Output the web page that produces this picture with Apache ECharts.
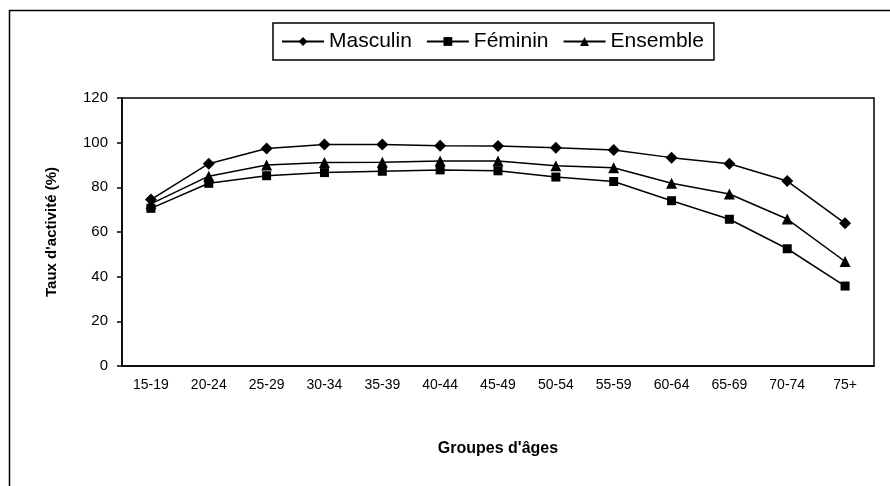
<!DOCTYPE html>
<html>
<head>
<meta charset="utf-8">
<script src="https://cdn.jsdelivr.net/npm/echarts@6/dist/echarts.min.js"></script>
<style>
  html, body { margin: 0; padding: 0; background: #fff; }
  #chart { width: 890px; height: 486px; }
</style>
</head>
<body>
<div id="chart"></div>
<script>
// données
var categories = ['15-19', '20-24', '25-29', '30-34', '35-39', '40-44', '45-49', '50-54', '55-59', '60-64', '65-69', '70-74', '75+'];
var masculin = [74.5, 90.6, 97.4, 99.2, 99.2, 98.6, 98.5, 97.7, 96.7, 93.3, 90.6, 82.8, 63.9];
var feminin = [70.6, 81.8, 85.2, 86.6, 87.2, 87.8, 87.4, 84.6, 82.6, 74.0, 65.7, 52.5, 35.8];
var ensemble = [72.6, 85.0, 90.0, 91.1, 91.2, 91.8, 91.8, 89.7, 88.8, 81.8, 77.0, 65.8, 46.8];
var yTicks = [0, 20, 40, 60, 80, 100, 120];

var font = 'Liberation Sans, Arial, sans-serif';
var myChart = echarts.init(document.getElementById('chart'));

function serie(name, data, symbol, size) {
    return {
        name: name,
        type: 'line',
        data: data,
        symbol: symbol,
        symbolSize: size,
        lineStyle: { color: '#000', width: 1.5 },
        itemStyle: { color: '#000', borderWidth: 0 },
        emphasis: { disabled: true },
        animation: false
    };
}

var option = {
    animation: false,
    graphic: [{
        type: 'rect',
        shape: { x: 9.5, y: 10.5, width: 900, height: 500 },
        style: { fill: 'none', stroke: '#000', lineWidth: 1.5 },
        silent: true
    }],
    legend: {
        top: 23,
        left: 273,
        padding: [8, 10, 8, 8],
        itemGap: 14,
        itemWidth: 42,
        itemHeight: 11,
        borderColor: '#000',
        borderWidth: 1.5,
        textStyle: { fontFamily: font, fontSize: 21, color: '#000' },
        data: ['Masculin', 'Féminin', 'Ensemble']
    },
    grid: {
        left: 122,
        right: 16,
        top: 98,
        bottom: 120,
        show: true,
        borderColor: '#000',
        borderWidth: 1.5,
        backgroundColor: '#fff'
    },
    xAxis: {
        type: 'category',
        data: categories,
        boundaryGap: true,
        name: "Groupes d'âges",
        nameLocation: 'middle',
        nameGap: 75,
        nameTextStyle: { fontFamily: font, fontSize: 16, fontWeight: 'bold', color: '#000' },
        axisLine: { lineStyle: { color: '#000', width: 1.5 } },
        axisTick: { length: 5, lineStyle: { color: '#000', width: 1.5 } },
        axisLabel: { fontFamily: font, fontSize: 14, color: '#000', margin: 12, interval: 0 }
    },
    yAxis: {
        type: 'value',
        min: yTicks[0],
        max: yTicks[yTicks.length - 1],
        interval: yTicks[1] - yTicks[0],
        name: "Taux d'activité (%)",
        nameLocation: 'middle',
        nameGap: 63,
        nameTextStyle: { fontFamily: font, fontSize: 15, fontWeight: 'bold', color: '#000' },
        splitLine: { show: false },
        axisLine: { show: true, lineStyle: { color: '#000', width: 1.5 } },
        axisTick: { show: true, length: 5, lineStyle: { color: '#000', width: 1.5 } },
        axisLabel: { fontFamily: font, fontSize: 15, color: '#000', margin: 14 }
    },
    series: [
        serie('Masculin', masculin, 'diamond', 12),
        serie('Féminin', feminin, 'rect', 9),
        serie('Ensemble', ensemble, 'triangle', 11)
    ]
};

myChart.setOption(option);
</script>
</body>
</html>
